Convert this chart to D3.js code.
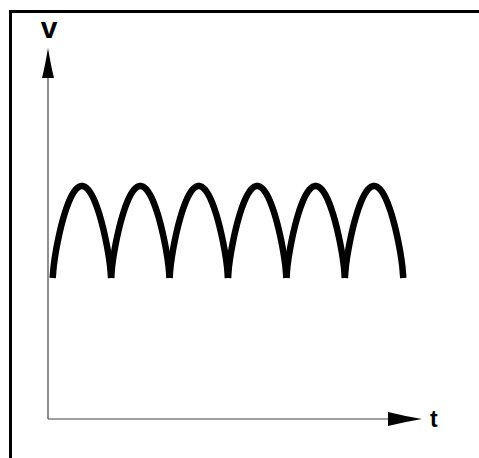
<!DOCTYPE html>
<html>
<head>
<meta charset="utf-8">
<script src="https://cdn.jsdelivr.net/npm/d3@7"></script>
<style>
  body { margin: 0; background: #fff; }
  svg { display: block; }
</style>
</head>
<body>
<script>
// canvas
const width = 479;
const height = 458;

// data: six half-waves of a rectified signal riding on a level
const arches = [0, 1, 2, 3, 4, 5];       // start of each half-wave (t units)
const baseLevel = [0.95];                 // v at the cusps
const peakLevel = [1.57];                 // v at the crests
const axisLabels = ["v", "t"];

// scales: origin of the axes sits at t=-0.08, v=0
const xScale = d3.scaleLinear().domain([-0.08, 6.32]).range([48, 422]);
const yScale = d3.scaleLinear().domain([0, 2.5]).range([419, 48]);

const svg = d3.select("body").append("svg")
    .attr("width", width)
    .attr("height", height);

// frame (top and left edge only)
svg.append("path")
    .attr("d", "M10.5,458 V11.5 H479")
    .attr("fill", "none")
    .attr("stroke", "#000")
    .attr("stroke-width", 3);

// axes
const x0 = xScale(-0.08), y0 = yScale(0);
const xEnd = xScale(6.32), yEnd = yScale(2.5);

svg.append("line")
    .attr("x1", x0).attr("y1", y0)
    .attr("x2", xEnd - 30).attr("y2", y0)
    .attr("stroke", "#444").attr("stroke-width", 1.2);

svg.append("line")
    .attr("x1", x0).attr("y1", y0)
    .attr("x2", x0).attr("y2", yEnd + 28)
    .attr("stroke", "#444").attr("stroke-width", 1.2);

// arrow heads
svg.append("path")
    .attr("d", `M${x0},${yEnd} Q${x0 + 3},${yEnd + 18} ${x0 + 6},${yEnd + 30} H${x0 - 6} Q${x0 - 3},${yEnd + 18} ${x0},${yEnd} Z`)
    .attr("fill", "#000");

svg.append("path")
    .attr("d", `M${xEnd},${y0} Q${xEnd - 18},${y0 + 3} ${xEnd - 34},${y0 + 7} V${y0 - 7} Q${xEnd - 18},${y0 - 3} ${xEnd},${y0} Z`)
    .attr("fill", "#000");

// labels
svg.append("text")
    .attr("x", x0 + 1).attr("y", 38)
    .attr("text-anchor", "middle")
    .attr("font-family", "Liberation Sans, Arial, sans-serif")
    .attr("font-weight", "bold")
    .attr("font-size", 30)
    .text(axisLabels[0]);

svg.append("text")
    .attr("x", xEnd + 8).attr("y", y0 + 8)
    .attr("font-family", "Liberation Sans, Arial, sans-serif")
    .attr("font-weight", "bold")
    .attr("font-size", 23)
    .text(axisLabels[1]);

// waveform: arches are rounder than a plain sine, steep at the cusps
const line = d3.line()
    .x(d => xScale(d.t))
    .y(d => yScale(d.v));

arches.forEach(start => {
    const pts = d3.range(0, 61).map(i => {
        const u = i / 60;
        const s = Math.pow(Math.sin(Math.PI * u), 0.7);
        return { t: start + u, v: baseLevel[0] + (peakLevel[0] - baseLevel[0]) * s };
    });
    svg.append("path")
        .datum(pts)
        .attr("fill", "none")
        .attr("stroke", "#000")
        .attr("stroke-width", 6.5)
        .attr("stroke-linejoin", "round")
        .attr("d", line);
});
</script>
</body>
</html>
